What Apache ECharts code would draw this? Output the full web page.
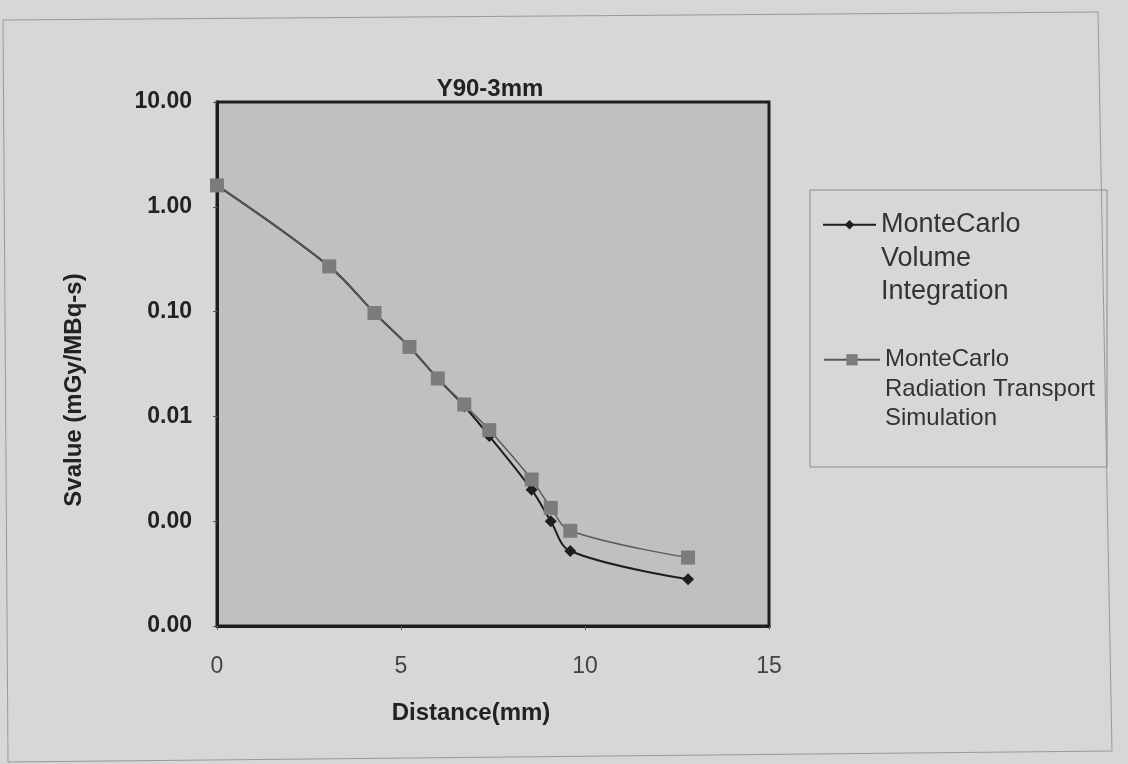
<!DOCTYPE html>
<html><head><meta charset="utf-8">
<script src="https://cdn.jsdelivr.net/npm/echarts@6/dist/echarts.min.js"></script>
<style>html,body{margin:0;padding:0;background:#d7d7d7}#c{width:1128px;height:764px}</style>
</head><body><div id="c"></div>
<script>
// ---- data ----
const chartTitle = 'Y90-3mm';
const xAxisName = 'Distance(mm)';
const yAxisName = 'Svalue (mGy/MBq-s)';
const seriesNames = ['MonteCarlo\nVolume\nIntegration', 'MonteCarlo\nRadiation Transport\nSimulation'];
const distVI = [0, 3.05, 4.28, 5.23, 6.0, 6.72, 7.4, 8.55, 9.07, 9.6, 12.8];
const svalVI = [1.6, 0.27, 0.097, 0.046, 0.023, 0.0125, 0.0065, 0.0020, 0.0010, 0.00052, 0.00028];
const distRT = [0, 3.05, 4.28, 5.23, 6.0, 6.72, 7.4, 8.55, 9.07, 9.6, 12.8];
const svalRT = [1.6, 0.27, 0.097, 0.046, 0.023, 0.013, 0.0074, 0.0025, 0.00134, 0.00081, 0.00045];
const xTickValues = [0, 5, 10, 15];
const yTickValues = [0.0001, 0.001, 0.01, 0.1, 1, 10];

const FONT = '"Liberation Sans", Arial, sans-serif';
const pairs = (xs, ys) => xs.map((x, i) => [x, ys[i]]);

const chart = echarts.init(document.getElementById('c'), null, {renderer: 'canvas'});
chart.setOption({
  backgroundColor: '#d7d7d7',
  animation: false,
  title: {
    text: chartTitle, left: 485, top: 72, textAlign: 'center',
    textStyle: {fontFamily: FONT, fontSize: 24, fontWeight: 'bold', color: '#222'}
  },
  grid: {
    left: 217, top: 102, right: 359, bottom: 138,
    show: true, backgroundColor: '#c0c0c0', borderColor: '#1e1e1e', borderWidth: 3
  },
  xAxis: {
    type: 'value', min: xTickValues[0], max: xTickValues[xTickValues.length - 1], interval: 5,
    name: xAxisName, nameLocation: 'middle', nameGap: 75,
    nameTextStyle: {fontFamily: FONT, fontSize: 24, fontWeight: 'bold', color: '#222', padding: [0, 44, 0, 0]},
    axisLine: {show: true, lineStyle: {color: '#1e1e1e', width: 3}},
    axisTick: {show: true, length: 4, lineStyle: {color: '#555'}},
    splitLine: {show: false},
    axisLabel: {fontFamily: FONT, fontSize: 23, color: '#444', margin: 29}
  },
  yAxis: {
    type: 'log', logBase: 10, min: yTickValues[0], max: yTickValues[yTickValues.length - 1],
    name: yAxisName, nameLocation: 'middle', nameGap: 131, nameRotate: 90,
    nameTextStyle: {fontFamily: FONT, fontSize: 24, fontWeight: 'bold', color: '#222', padding: [0, 52, 0, 0]},
    axisLine: {show: true, lineStyle: {color: '#1e1e1e', width: 3}},
    axisTick: {show: true, length: 4, lineStyle: {color: '#555'}},
    splitLine: {show: false},
    axisLabel: {fontFamily: FONT, fontSize: 23, fontWeight: 'bold', color: '#222', margin: 25,
      formatter: v => Number(v).toFixed(2)}
  },
  legend: [
    {
      data: [seriesNames[0]], left: 822, top: 141, orient: 'vertical', padding: 0,
      itemWidth: 53, itemHeight: 12,
      formatter: n => ' \n \n' + n,
      textStyle: {fontFamily: FONT, fontSize: 27, color: '#333', lineHeight: 33.5}
    },
    {
      data: [seriesNames[1]], left: 823, top: 286, orient: 'vertical', padding: 0,
      itemWidth: 56, itemHeight: 14,
      formatter: n => ' \n \n' + n,
      textStyle: {fontFamily: FONT, fontSize: 24, color: '#333', lineHeight: 29.5}
    }
  ],
  graphic: [
    {type: 'rect', shape: {x: 810, y: 190, width: 297, height: 277}, silent: true,
     style: {fill: 'none', stroke: '#8a8a8a', lineWidth: 1}},
    {type: 'polygon', shape: {points: [[3, 20], [1098, 12], [1112, 751], [8, 762]]}, silent: true,
     style: {fill: 'none', stroke: '#9a9a9a', lineWidth: 1}}
  ],
  series: [
    {
      name: seriesNames[0], type: 'line', data: pairs(distVI, svalVI), smooth: 0.35,
      symbol: 'diamond', symbolSize: 12,
      lineStyle: {color: '#1e1e1e', width: 2},
      itemStyle: {color: '#1e1e1e'}, z: 2
    },
    {
      name: seriesNames[1], type: 'line', data: pairs(distRT, svalRT), smooth: 0.35,
      symbol: 'rect', symbolSize: 14,
      lineStyle: {color: '#5a5a5a', width: 1.5},
      itemStyle: {color: '#7c7c7c'}, z: 3
    }
  ]
});
</script></body></html>
